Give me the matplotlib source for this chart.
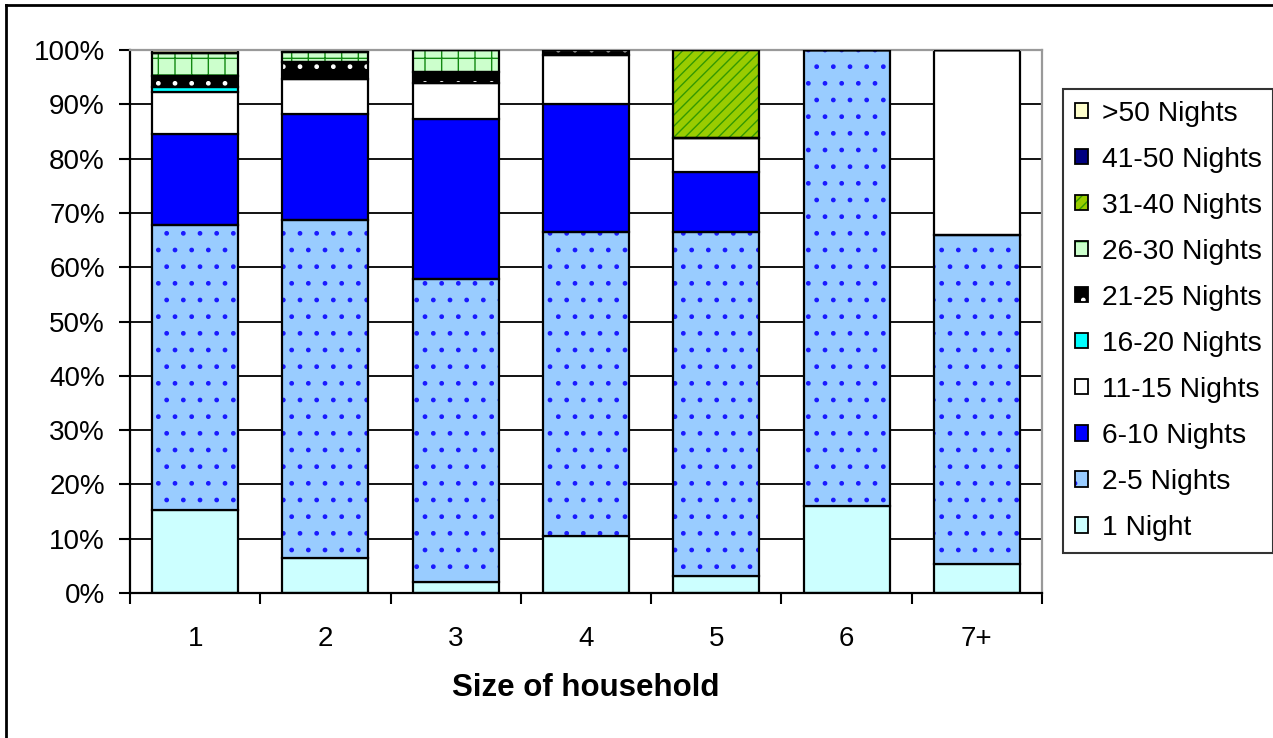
import matplotlib
matplotlib.use("Agg")
import matplotlib.pyplot as plt
import numpy as np
from matplotlib.patches import Patch
from matplotlib.legend_handler import HandlerTuple
from matplotlib.lines import Line2D

plt.rcParams['font.family'] = ['Liberation Sans', 'DejaVu Sans']

# household sizes and night bands (percent of households)
sizes = ['1', '2', '3', '4', '5', '6', '7+']
bands = ['1 Night', '2-5 Nights', '6-10 Nights', '11-15 Nights', '16-20 Nights',
         '21-25 Nights', '26-30 Nights', '31-40 Nights', '41-50 Nights', '>50 Nights']

one_night = [15.3, 6.4, 2.0, 10.5, 3.1, 16.0, 5.3]
n2_5 = [52.5, 62.3, 55.9, 55.9, 63.4, 84.0, 60.7]
n6_10 = [16.7, 19.5, 29.4, 23.6, 11.1, 0, 0]
n11_15 = [7.8, 6.4, 6.7, 9.0, 6.2, 0, 34.0]
n16_20 = [0.8, 0, 0, 0, 0, 0, 0]
n21_25 = [2.1, 3.2, 2.0, 1.0, 0, 0, 0]
n26_30 = [4.2, 1.9, 4.0, 0, 0, 0, 0]
n31_40 = [0, 0, 0, 0, 16.2, 0, 0]
n41_50 = [0, 0.3, 0, 0, 0, 0, 0]
n50_up = [0.6, 0, 0, 0, 0, 0, 0]

series = [one_night, n2_5, n6_10, n11_15, n16_20, n21_25, n26_30, n31_40, n41_50, n50_up]

# face colour, hatch, hatch colour
styles = [
    ('#CCFFFF', '', None),
    ('#99CCFF', '.', '#1a1aff'),
    ('#0000FF', '', None),
    ('#FFFFFF', '', None),
    ('#00FFFF', '', None),
    ('#000000', '.', '#FFFFFF'),
    ('#CCFFCC', '+', '#118811'),
    ('#99CC00', '///', '#339900'),
    ('#000080', '', None),
    ('#FFFFCC', '', None),
]

fig = plt.figure(figsize=(12.73, 7.38), dpi=100)
ax = fig.add_axes([130 / 1273, 1 - 593 / 738, 912 / 1273, 543 / 738])

x = np.arange(len(sizes))
width = 0.66
bottom = np.zeros(len(sizes))
handles = []
for vals, (fc, hatch, hc) in zip(series, styles):
    vals = np.array(vals)
    if hatch:
        ax.bar(x, vals, width, bottom=bottom, color=fc, edgecolor=hc, hatch=hatch,
               linewidth=0, zorder=2)
        ax.bar(x, vals, width, bottom=bottom, fill=False, edgecolor='black',
               linewidth=1.6, zorder=3)
        h = (Patch(facecolor=fc, edgecolor=hc, hatch=hatch, linewidth=0),
             Patch(fill=False, edgecolor='black', linewidth=1.3))
    else:
        ax.bar(x, vals, width, bottom=bottom, color=fc, edgecolor='black',
               linewidth=1.6, zorder=2)
        h = Patch(facecolor=fc, edgecolor='black', linewidth=1.3)
    handles.append(h)
    bottom += vals

ax.set_xlim(-0.5, len(sizes) - 0.5)
ax.set_ylim(0, 100)
ax.set_yticks(np.arange(0, 101, 10))
ax.set_yticklabels([f'{v}%' for v in range(0, 101, 10)])
ax.yaxis.grid(True, color='black', linewidth=1.3, zorder=0)
ax.set_axisbelow(True)

ax.set_xticks(x)
ax.set_xticklabels(sizes)
ax.set_xticks(np.arange(-0.5, len(sizes), 1), minor=True)
ax.tick_params(axis='x', which='major', length=0, pad=24, labelsize=20)
ax.tick_params(axis='x', which='minor', length=8, width=1.5, direction='out')
ax.tick_params(axis='y', length=8, width=1.5, pad=10, labelsize=20)

for s in ['left', 'bottom']:
    ax.spines[s].set_linewidth(1.6)
for s in ['top', 'right']:
    ax.spines[s].set_color('#999999')
    ax.spines[s].set_linewidth(1.6)

ax.set_xlabel('Size of household', fontsize=22.5, fontweight='bold')
ax.xaxis.set_label_coords(0.5, -0.148)

leg = fig.legend(handles[::-1], bands[::-1], loc='upper left',
                 bbox_to_anchor=(1063 / 1273, 1 - 89 / 738),
                 handler_map={tuple: HandlerTuple(ndivide=1)},
                 fontsize=20.3, frameon=True, fancybox=False, edgecolor='black',
                 handlelength=0.45, handleheight=0.45, handletextpad=0.5,
                 labelspacing=0.71, borderpad=0.42, borderaxespad=0)
leg.get_frame().set_linewidth(1.5)

# outer chart frame (left and top edges visible)
fig.add_artist(Line2D([6 / 1273, 6 / 1273], [0, 1 - 5 / 738], color='black', linewidth=2))
fig.add_artist(Line2D([6 / 1273, 1], [1 - 5 / 738, 1 - 5 / 738], color='black', linewidth=2))

fig.savefig('out.png', dpi=100)
